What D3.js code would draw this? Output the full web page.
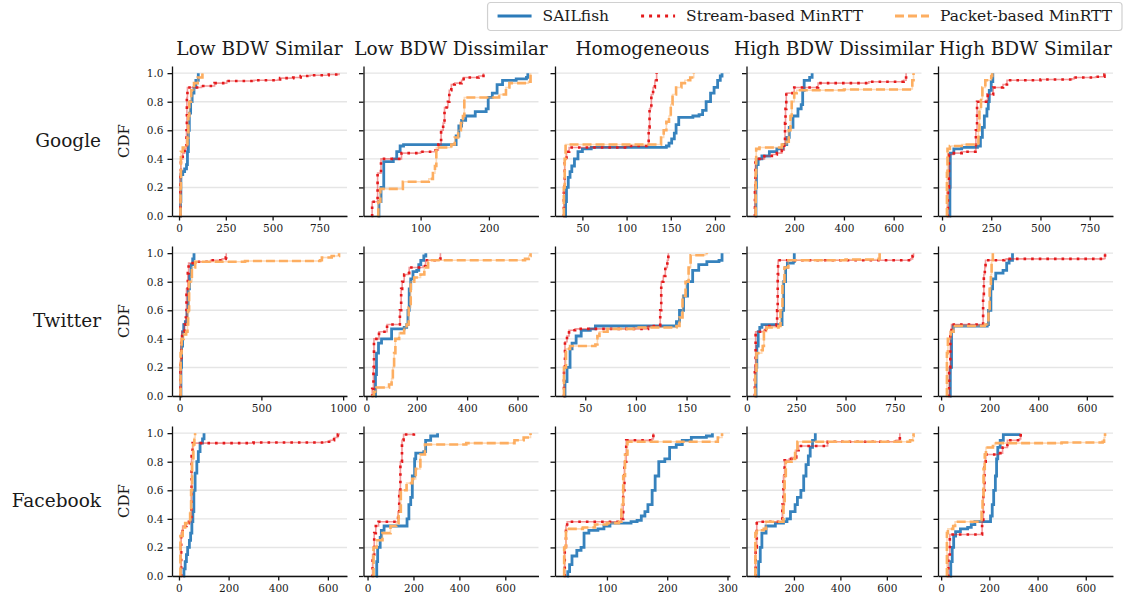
<!DOCTYPE html>
<html>
<head>
<meta charset="utf-8">
<script src="https://cdn.jsdelivr.net/npm/d3@7/dist/d3.min.js"></script>
<style>
  body { margin: 0; background: #fff; }
  text { font-family: "DejaVu Serif", serif; fill: #1a1a1a; }
</style>
</head>
<body>
<svg id="chart" width="1125" height="606"></svg>
<script>
// ---- data: [RTT, CDF] knots ----
const sites = ["Google", "Twitter", "Facebook"];
const scenarios = ["Low BDW Similar", "Low BDW Dissimilar", "Homogeneous", "High BDW Dissimilar", "High BDW Similar"];
const seriesNames = ["SAILfish", "Stream-based MinRTT", "Packet-based MinRTT"];
const cdfTicks = [0, 0.2, 0.4, 0.6, 0.8, 1.0];

// Google
const gLsSail = [[5,0],[8,0.1],[10,0.29],[20,0.31],[30,0.33],[40,0.36],[45,0.45],[50,0.6],[55,0.72],[62,0.8],[70,0.86],[80,0.9],[90,0.95],[103,1.0]];
const gLsStream = [[5,0],[7,0.3],[10,0.4],[20,0.44],[30,0.47],[40,0.6],[42,0.83],[45,0.9],[110,0.9],[120,0.91],[190,0.93],[255,0.945],[400,0.95],[530,0.955],[540,0.965],[610,0.97],[650,0.98],[700,0.985],[800,0.99],[855,1.0]];
const gLsPacket = [[5,0],[8,0.2],[10,0.45],[20,0.48],[35,0.49],[45,0.55],[50,0.7],[55,0.8],[65,0.88],[80,0.93],[100,0.97],[125,1.0]];
const gLsTicks = [0, 250, 500, 750];

const gLdSail = [[37,0],[39,0.1],[42,0.2],[46,0.38],[60,0.4],[65,0.45],[70,0.49],[75,0.5],[148,0.5],[152,0.56],[156,0.63],[160,0.67],[166,0.7],[180,0.73],[196,0.75],[199,0.83],[205,0.86],[212,0.92],[220,0.95],[240,0.96],[255,0.97],[257,1.0]];
const gLdStream = [[28,0],[29,0.1],[36,0.1],[37,0.3],[41,0.3],[42,0.4],[70,0.4],[72,0.44],[100,0.45],[122,0.46],[126,0.5],[130,0.6],[133,0.65],[135,0.76],[140,0.8],[142,0.88],[145,0.92],[150,0.93],[160,0.95],[163,0.97],[185,0.98],[192,1.0]];
const gLdPacket = [[36,0],[38,0.1],[41,0.19],[72,0.19],[74,0.24],[112,0.26],[118,0.3],[121,0.35],[123,0.48],[145,0.5],[150,0.55],[155,0.6],[159,0.65],[162,0.7],[164,0.83],[210,0.83],[215,0.85],[225,0.9],[230,0.93],[258,0.94],[261,1.0]];
const gLdTicks = [100, 200];

const gHoSail = [[30,0],[31,0.1],[32,0.2],[34,0.27],[36,0.31],[38,0.35],[41,0.4],[45,0.45],[50,0.47],[60,0.48],[145,0.49],[148,0.51],[151,0.54],[154,0.58],[156,0.64],[159,0.69],[175,0.7],[182,0.71],[186,0.74],[190,0.8],[195,0.86],[199,0.9],[203,0.95],[206,0.98],[208,1.0]];
const gHoStream = [[28,0],[29,0.2],[30,0.4],[32,0.45],[35,0.48],[60,0.48],[100,0.49],[122,0.49],[124,0.5],[125,0.62],[126,0.75],[127,0.76],[128,0.85],[130,0.9],[132,0.95],[134,1.0]];
const gHoPacket = [[28,0],[29,0.2],[30,0.4],[31,0.5],[136,0.5],[139,0.55],[142,0.6],[145,0.66],[148,0.7],[150,0.78],[152,0.85],[156,0.9],[162,0.93],[166,0.95],[172,0.97],[176,1.0]];
const gHoTicks = [50, 100, 150, 200];

const gHdSail = [[44,0],[46,0.2],[48,0.36],[55,0.4],[70,0.42],[100,0.45],[130,0.47],[155,0.5],[170,0.55],[180,0.62],[195,0.7],[215,0.75],[228,0.78],[234,0.88],[240,0.95],[262,0.97],[272,1.0]];
const gHdStream = [[40,0],[42,0.2],[44,0.4],[80,0.42],[110,0.43],[130,0.44],[150,0.46],[160,0.5],[163,0.65],[165,0.75],[168,0.86],[195,0.86],[200,0.9],[290,0.9],[296,0.93],[500,0.94],[640,0.95],[650,1.0]];
const gHdPacket = [[44,0],[45,0.3],[47,0.47],[60,0.48],[150,0.5],[170,0.52],[178,0.6],[185,0.7],[190,0.8],[200,0.86],[210,0.88],[400,0.885],[670,0.89],[675,0.95],[680,1.0]];
const gHdTicks = [200, 400, 600];

const gHsSail = [[38,0],[40,0.2],[42,0.44],[60,0.47],[100,0.48],[180,0.49],[195,0.55],[205,0.62],[215,0.7],[228,0.75],[235,0.8],[240,0.88],[250,0.94],[258,1.0]];
const gHsStream = [[25,0],[30,0.2],[35,0.43],[60,0.44],[100,0.45],[170,0.46],[172,0.6],[178,0.8],[225,0.81],[232,0.85],[260,0.9],[310,0.92],[330,0.95],[500,0.955],[660,0.96],[670,0.97],[780,0.975],[825,0.99],[828,1.0]];
const gHsPacket = [[20,0],[25,0.3],[28,0.47],[40,0.49],[100,0.5],[178,0.5],[185,0.6],[190,0.75],[198,0.82],[205,0.9],[220,0.95],[250,0.98],[255,1.0]];
const gHsTicks = [0, 250, 500, 750];

// Twitter
const tLsSail = [[6,0],[8,0.2],[12,0.35],[18,0.45],[25,0.5],[35,0.52],[45,0.6],[52,0.75],[60,0.85],[70,0.92],[80,0.96],[88,1.0]];
const tLsStream = [[2,0],[5,0.25],[10,0.4],[15,0.45],[30,0.5],[38,0.55],[42,0.75],[50,0.86],[55,0.93],[100,0.94],[190,0.95],[260,0.96],[282,0.97],[285,1.0]];
const tLsPacket = [[2,0],[6,0.3],[12,0.4],[25,0.43],[40,0.45],[48,0.5],[52,0.6],[58,0.8],[75,0.9],[95,0.94],[400,0.945],[860,0.95],[870,0.97],[930,0.98],[975,1.0]];
const tLsTicks = [0, 500, 1000];

const tLdSail = [[34,0],[36,0.15],[40,0.3],[48,0.37],[60,0.4],[92,0.4],[100,0.47],[150,0.48],[160,0.5],[165,0.6],[170,0.75],[176,0.82],[185,0.87],[200,0.88],[208,0.92],[216,0.95],[228,0.98],[236,1.0]];
const tLdStream = [[20,0],[23,0.05],[28,0.2],[30,0.4],[45,0.4],[50,0.45],[80,0.45],[82,0.5],[130,0.5],[133,0.6],[138,0.75],[142,0.8],[150,0.85],[165,0.86],[170,0.9],[225,0.91],[235,0.95],[290,0.96],[294,1.0]];
const tLdPacket = [[20,0],[30,0.03],[40,0.06],[90,0.08],[100,0.12],[105,0.2],[110,0.3],[115,0.4],[130,0.44],[150,0.48],[160,0.5],[168,0.62],[176,0.8],[190,0.83],[215,0.85],[230,0.9],[245,0.95],[500,0.95],[630,0.96],[645,0.98],[652,1.0]];
const tLdTicks = [0, 200, 400, 600];

const tHoSail = [[29,0],[30,0.1],[32,0.2],[35,0.33],[37,0.37],[41,0.42],[46,0.46],[55,0.47],[60,0.49],[137,0.49],[140,0.52],[143,0.6],[147,0.7],[151,0.8],[156,0.88],[162,0.92],[170,0.94],[182,0.95],[185,1.0]];
const tHoStream = [[28,0],[29,0.2],[30,0.38],[32,0.42],[34,0.46],[40,0.47],[110,0.47],[112,0.49],[123,0.49],[124,0.6],[125,0.8],[127,0.84],[129,0.9],[131,0.95],[132,1.0]];
const tHoPacket = [[28,0],[29,0.2],[31,0.33],[35,0.35],[60,0.36],[62,0.42],[64,0.45],[72,0.47],[100,0.48],[140,0.49],[143,0.55],[146,0.7],[149,0.8],[152,0.9],[154,0.985],[168,0.99],[170,1.0]];
const tHoTicks = [50, 100, 150];

const tHdSail = [[44,0],[46,0.2],[50,0.35],[57,0.45],[65,0.48],[76,0.5],[170,0.5],[178,0.6],[186,0.8],[196,0.9],[205,0.93],[235,0.94],[240,1.0]];
const tHdStream = [[38,0],[40,0.2],[44,0.45],[85,0.46],[95,0.49],[150,0.5],[153,0.6],[156,0.85],[158,0.95],[400,0.95],[830,0.96],[840,0.98],[845,1.0]];
const tHdPacket = [[38,0],[42,0.15],[48,0.3],[75,0.32],[80,0.35],[86,0.45],[100,0.48],[160,0.49],[170,0.6],[180,0.8],[190,0.9],[210,0.95],[500,0.955],[668,0.96],[673,1.0]];
const tHdTicks = [0, 250, 500, 750];

const tHsSail = [[36,0],[38,0.2],[43,0.45],[50,0.49],[100,0.49],[190,0.5],[195,0.6],[205,0.75],[212,0.82],[225,0.86],[255,0.88],[270,0.93],[280,0.95],[294,1.0]];
const tHsStream = [[28,0],[33,0.2],[38,0.45],[43,0.5],[170,0.5],[173,0.7],[176,0.85],[180,0.9],[183,0.95],[260,0.955],[268,0.96],[670,0.962],[675,1.0]];
const tHsPacket = [[20,0],[24,0.3],[28,0.4],[40,0.45],[51,0.49],[180,0.5],[195,0.6],[200,0.75],[205,0.85],[208,0.95],[213,1.0]];
const tHsTicks = [0, 200, 400, 600];

// Facebook
const fLsSail = [[17,0],[20,0.05],[25,0.1],[30,0.15],[35,0.2],[42,0.25],[47,0.3],[52,0.38],[56,0.45],[60,0.6],[65,0.72],[72,0.8],[78,0.87],[85,0.93],[95,0.96],[101,1.0]];
const fLsStream = [[7,0],[9,0.3],[15,0.35],[30,0.37],[40,0.38],[48,0.4],[50,0.6],[51,0.84],[55,0.93],[300,0.935],[590,0.94],[610,0.95],[625,0.97],[640,0.99],[645,1.0]];
const fLsPacket = [[4,0],[6,0.28],[15,0.34],[25,0.37],[40,0.38],[45,0.45],[49,0.6],[53,0.8],[58,0.92],[62,0.97],[65,1.0]];
const fLsTicks = [0, 200, 400, 600];

const fLdSail = [[36,0],[40,0.1],[44,0.2],[55,0.27],[60,0.32],[72,0.35],[165,0.35],[172,0.4],[180,0.5],[188,0.55],[195,0.7],[205,0.82],[210,0.86],[245,0.87],[253,0.95],[275,0.98],[305,1.0]];
const fLdStream = [[17,0],[22,0.15],[29,0.3],[36,0.35],[48,0.38],[128,0.38],[133,0.45],[138,0.6],[143,0.8],[150,0.95],[157,0.99],[202,1.0]];
const fLdPacket = [[22,0],[26,0.2],[40,0.25],[65,0.3],[100,0.35],[125,0.37],[135,0.45],[145,0.6],[170,0.65],[195,0.68],[210,0.75],[230,0.85],[250,0.92],[430,0.93],[640,0.95],[680,0.97],[710,1.0]];
const fLdTicks = [0, 200, 400, 600];

const fHoSail = [[33,0],[35,0.03],[38,0.08],[42,0.14],[50,0.18],[57,0.2],[62,0.3],[70,0.32],[85,0.33],[95,0.35],[105,0.37],[140,0.38],[150,0.39],[157,0.42],[163,0.45],[168,0.5],[175,0.6],[180,0.7],[186,0.8],[196,0.82],[204,0.9],[215,0.92],[225,0.95],[240,0.97],[265,0.98],[275,1.0]];
const fHoStream = [[29,0],[30,0.2],[32,0.35],[34,0.38],[120,0.38],[124,0.4],[127,0.6],[129,0.8],[132,0.95],[175,0.96],[177,1.0]];
const fHoPacket = [[27,0],[29,0.2],[32,0.33],[60,0.34],[80,0.36],[100,0.37],[120,0.38],[124,0.5],[127,0.7],[130,0.85],[134,0.94],[280,0.94],[284,0.97],[291,1.0]];
const fHoTicks = [100, 200, 300];

const fHdSail = [[43,0],[48,0.1],[55,0.2],[62,0.3],[80,0.35],[120,0.37],[155,0.38],[170,0.4],[185,0.45],[205,0.5],[215,0.55],[230,0.6],[242,0.7],[252,0.78],[262,0.84],[270,0.9],[280,0.95],[292,1.0]];
const fHdStream = [[32,0],[35,0.2],[40,0.38],[145,0.38],[150,0.5],[155,0.7],[160,0.81],[180,0.82],[190,0.83],[210,0.88],[220,0.91],[330,0.91],[345,0.94],[640,0.95],[656,1.0]];
const fHdPacket = [[30,0],[34,0.3],[40,0.32],[70,0.33],[80,0.38],[150,0.38],[155,0.5],[160,0.7],[165,0.8],[190,0.82],[205,0.88],[215,0.94],[500,0.94],[700,0.95],[712,0.98],[715,1.0]];
const fHdTicks = [200, 400, 600];

const fHsSail = [[36,0],[40,0.1],[46,0.2],[52,0.28],[60,0.31],[80,0.33],[110,0.34],[125,0.36],[140,0.38],[195,0.38],[205,0.42],[212,0.5],[218,0.6],[225,0.7],[230,0.82],[235,0.9],[245,0.95],[258,0.99],[322,1.0]];
const fHsStream = [[25,0],[30,0.15],[36,0.29],[165,0.29],[170,0.38],[175,0.6],[180,0.8],[185,0.85],[240,0.86],[255,0.9],[275,0.95],[325,0.96],[330,1.0]];
const fHsPacket = [[20,0],[24,0.3],[28,0.33],[50,0.35],[58,0.38],[155,0.38],[168,0.45],[172,0.55],[176,0.75],[181,0.85],[186,0.9],[215,0.91],[222,0.93],[500,0.935],[670,0.94],[676,0.97],[680,1.0]];
const fHsTicks = [0, 200, 400, 600];

// grid of panels: rows = sites, columns = scenarios
const panels = [
  [[gLsSail, gLsStream, gLsPacket, gLsTicks], [gLdSail, gLdStream, gLdPacket, gLdTicks], [gHoSail, gHoStream, gHoPacket, gHoTicks], [gHdSail, gHdStream, gHdPacket, gHdTicks], [gHsSail, gHsStream, gHsPacket, gHsTicks]],
  [[tLsSail, tLsStream, tLsPacket, tLsTicks], [tLdSail, tLdStream, tLdPacket, tLdTicks], [tHoSail, tHoStream, tHoPacket, tHoTicks], [tHdSail, tHdStream, tHdPacket, tHdTicks], [tHsSail, tHsStream, tHsPacket, tHsTicks]],
  [[fLsSail, fLsStream, fLsPacket, fLsTicks], [fLdSail, fLdStream, fLdPacket, fLdTicks], [fHoSail, fHoStream, fHoPacket, fHoTicks], [fHdSail, fHdStream, fHdPacket, fHdTicks], [fHsSail, fHsStream, fHsPacket, fHsTicks]]
];

// ---- layout ----
const colLeft = [172, 363.5, 555, 746.5, 938];
const rowTop = [66, 246, 426];
const panelW = 175, panelH = 150;

const blue = "#2b7bb9", red = "#e41a1c", orange = "#fdae61";
const styles = [
  { color: blue,   width: 2.8, dash: null,     under: false },
  { color: red,    width: 2.6, dash: "2.6,5",  under: true },
  { color: orange, width: 2.6, dash: "9,4",    under: true }
];

const svg = d3.select("#chart");

panels.forEach((row, r) => {
  row.forEach((cell, c) => {
    const left = colLeft[c], top = rowTop[r];
    const bottom = top + panelH, right = left + panelW;
    const series = cell.slice(0, 3), ticks = cell[3];

    const allX = series.flat().map(d => d[0]);
    const xmin = d3.min(allX), xmax = d3.max(allX), pad = (xmax - xmin) * 0.05;
    const x = d3.scaleLinear().domain([xmin - pad, xmax + pad]).range([left, right]);
    const y = d3.scaleLinear().domain([0, 1.05]).range([bottom, top]);

    const g = svg.append("g");

    // grid
    g.selectAll(".grid").data(cdfTicks).enter().append("line")
      .attr("x1", left).attr("x2", right)
      .attr("y1", d => y(d)).attr("y2", d => y(d))
      .attr("stroke", "#e5e5e5").attr("stroke-width", 1.4);

    // curves
    const line = d3.line().x(d => x(d[0])).y(d => y(d[1])).curve(d3.curveStepAfter);
    series.forEach((s, i) => {
      const st = styles[i];
      if (st.under) {
        g.append("path").attr("d", line(s)).attr("fill", "none")
          .attr("stroke", st.color).attr("stroke-width", 1.6).attr("stroke-opacity", 0.45);
      }
      g.append("path").attr("d", line(s)).attr("fill", "none")
        .attr("stroke", st.color).attr("stroke-width", st.width)
        .attr("stroke-dasharray", st.dash)
        .attr("stroke-opacity", i == 0 ? 0.95 : 1);
    });

    // axes
    const xAxis = d3.axisBottom(x).tickValues(ticks).tickSize(4.5).tickSizeOuter(0).tickPadding(4).tickFormat(d3.format("d"));
    const yAxis = d3.axisLeft(y).tickValues(cdfTicks).tickSize(4.5).tickSizeOuter(0).tickPadding(4)
      .tickFormat(c == 0 ? d3.format(".1f") : () => "");

    g.append("g").attr("transform", `translate(0,${bottom})`).call(xAxis);
    g.append("g").attr("transform", `translate(${left},0)`).call(yAxis);
    g.selectAll(".domain, .tick line").attr("stroke", "#111").attr("stroke-width", 1.3);
    g.selectAll(".tick text").style("font-family", '"DejaVu Serif", serif').style("font-size", "10.5px").attr("fill", "#1a1a1a");

    if (r == 0) {
      svg.append("text").attr("x", left + panelW / 2).attr("y", 55)
        .attr("text-anchor", "middle").style("font-size", "18.5px").text(scenarios[c]);
    }
    if (c == 0) {
      const mid = top + panelH / 2;
      svg.append("text").attr("x", 101).attr("y", mid).attr("dy", "0.35em")
        .attr("text-anchor", "end").style("font-size", "18.5px").text(sites[r]);
      svg.append("text").attr("transform", `translate(129,${mid}) rotate(-90)`)
        .attr("text-anchor", "middle").style("font-size", "15px").text("CDF");
    }
  });
});

// ---- legend, anchored top right ----
const legend = svg.append("g");
let lx = 10;
seriesNames.forEach((name, i) => {
  const st = styles[i];
  legend.append("line").attr("x1", lx).attr("x2", lx + 34).attr("y1", 16).attr("y2", 16)
    .attr("stroke", st.color).attr("stroke-width", i == 0 ? 3 : 3)
    .attr("stroke-dasharray", i == 1 ? "3,5" : st.dash);
  const t = legend.append("text").attr("x", lx + 45).attr("y", 16).attr("dy", "0.35em")
    .style("font-size", "15.5px").text(name);
  lx += 45 + t.node().getComputedTextLength() + (i < 2 ? 32 : 10);
});
legend.insert("rect", ":first-child").attr("x", 0).attr("y", 2.5).attr("width", lx).attr("height", 28)
  .attr("rx", 3).attr("fill", "#fff").attr("stroke", "#d0d0d0").attr("stroke-width", 1.2);
legend.attr("transform", `translate(${1122 - lx},0)`);
</script>
</body>
</html>
